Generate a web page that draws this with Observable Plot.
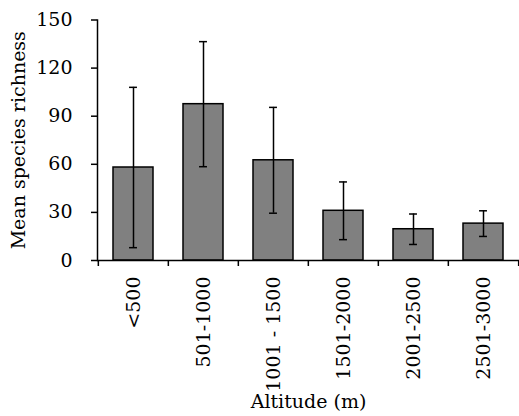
<!DOCTYPE html>
<html><head><meta charset="utf-8">
<script src="https://cdn.jsdelivr.net/npm/d3@7"></script>
<script src="https://cdn.jsdelivr.net/npm/@observablehq/plot@0.6"></script>
<style>body{margin:0;background:#fff}</style>
</head><body><div id="chart"></div>
<script>
const altitudes = ["<500", "501-1000", "1001 - 1500", "1501-2000", "2001-2500", "2501-3000"];
const meanRichness = [58, 97.5, 62.5, 31, 19.5, 23];
const errorSize = [50, 39, 33, 18, 9.5, 8];
const yTicks = [0, 30, 60, 90, 120, 150];

const data = altitudes.map((a, i) => ({
  altitude: a,
  mean: meanRichness[i],
  lo: meanRichness[i] - errorSize[i],
  hi: meanRichness[i] + errorSize[i]
}));

const W = 519, H = 416, mL = 97, mR = 0, mT = 19.5, mB = 156;
const pInner = 0.43, pOuter = 0.215;
const step = (W - mL - mR) / (altitudes.length - pInner + 2 * pOuter);
const bw = step * (1 - pInner);
const capInset = (bw - 8) / 2;
const font = "DejaVu Serif";
const fs = 19;

const chart = Plot.plot({
  width: W, height: H,
  marginLeft: mL, marginRight: mR, marginTop: mT, marginBottom: mB,
  style: {fontFamily: font, fontSize: fs + "px", color: "#000", background: "#fff"},
  x: {domain: altitudes, paddingInner: pInner, paddingOuter: pOuter},
  y: {domain: [0, 150]},
  marks: [
    Plot.barY(data, {x: "altitude", y: "mean", fill: "#808080", stroke: "#000", strokeWidth: 1.5}),
    Plot.ruleX(data, {x: "altitude", y1: "lo", y2: "hi", stroke: "#000", strokeWidth: 1.5}),
    Plot.tickY(data, {x: "altitude", y: "lo", insetLeft: capInset, insetRight: capInset, stroke: "#000", strokeWidth: 1.5}),
    Plot.tickY(data, {x: "altitude", y: "hi", insetLeft: capInset, insetRight: capInset, stroke: "#000", strokeWidth: 1.5}),
    Plot.ruleY([0], {stroke: "#000", strokeWidth: 1.5}),
    Plot.frame({anchor: "left", stroke: "#000", strokeWidth: 1.5}),
    Plot.ruleX(data, {x: "altitude", y1: 0, y2: 0, insetBottom: -6, dx: -step / 2, stroke: "#000", strokeWidth: 1.5}),
    Plot.ruleX(data.slice(-1), {x: "altitude", y1: 0, y2: 0, insetBottom: -6, dx: step / 2, stroke: "#000", strokeWidth: 1.5}),
    Plot.axisY({ticks: yTicks, tickSize: 6, tickPadding: 19, tickFormat: d => String(d),
      label: "Mean species richness", labelAnchor: "center", labelArrow: "none", labelOffset: 86,
      fontSize: fs, strokeWidth: 1.5}),
    Plot.axisX({tickSize: 0, tickRotate: -90, tickPadding: 16,
      label: "Altitude (m)", labelAnchor: "center", labelArrow: "none", labelOffset: 147, fontSize: fs})
  ]
});
document.getElementById("chart").appendChild(chart);
</script>
</body></html>
